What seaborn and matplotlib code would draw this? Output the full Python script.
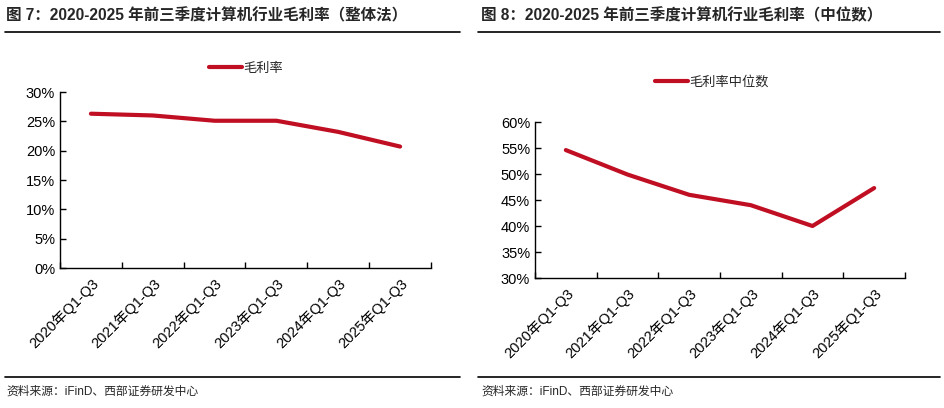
import matplotlib
matplotlib.use('Agg')
import matplotlib.pyplot as plt
from matplotlib.lines import Line2D
from matplotlib.ticker import FixedLocator, PercentFormatter
import pandas as pd
import seaborn as sns

# data
periods = ['2020年Q1-Q3', '2021年Q1-Q3', '2022年Q1-Q3', '2023年Q1-Q3', '2024年Q1-Q3', '2025年Q1-Q3']
gross_margin = [26.3, 26.0, 25.1, 25.1, 23.2, 20.7]
gross_margin_median = [54.6, 49.9, 46.0, 44.0, 40.0, 47.3]

title_left = '图 7：2020-2025 年前三季度计算机行业毛利率（整体法）'
title_right = '图 8：2020-2025 年前三季度计算机行业毛利率（中位数）'
source = '资料来源：iFinD、西部证券研发中心'

sns.set_theme(style='white')
plt.rcParams['font.family'] = ['Liberation Sans', 'Noto Sans CJK SC', 'DejaVu Sans']
plt.rcParams['axes.unicode_minus'] = False

RED = '#C00F23'
W, H = 945, 408

fig = plt.figure(figsize=(W / 100, H / 100), dpi=100)


def px_axes(x0, y_top, x1, y_bottom):
    return fig.add_axes([x0 / W, 1 - y_bottom / H, (x1 - x0) / W, (y_bottom - y_top) / H])


def hline(x0, x1, y):
    fig.add_artist(Line2D([x0 / W, x1 / W], [1 - y / H, 1 - y / H], color='black', lw=1.2,
                          transform=fig.transFigure))


def draw_panel(ax, values, label, ylim, step, legend_xy):
    df = pd.DataFrame({'period': periods, 'value': values})
    sns.lineplot(data=df, x='period', y='value', ax=ax, color=RED, linewidth=3,
                 label=label, sort=False)
    ax.set_xlim(-0.5, len(periods) - 0.5)
    ax.set_ylim(*ylim)
    ax.set_yticks([ylim[0] + i * step for i in range(int((ylim[1] - ylim[0]) / step) + 1)])
    ax.yaxis.set_major_formatter(PercentFormatter(decimals=0))
    ax.set_xticks(range(len(periods)))
    ax.set_xticklabels(periods, rotation=45, ha='right', rotation_mode='anchor')
    ax.xaxis.set_minor_locator(FixedLocator([i - 0.5 for i in range(len(periods) + 1)]))
    ax.tick_params(axis='x', which='major', length=0, pad=6, labelsize=10.5, colors='black')
    ax.tick_params(axis='x', which='minor', length=4, direction='in', width=1, color='black', bottom=True)
    ax.tick_params(axis='y', length=4, direction='in', width=1, labelsize=10.5, colors='black', left=True)
    ax.set_xlabel('')
    ax.set_ylabel('')
    for s in ['top', 'right']:
        ax.spines[s].set_visible(False)
    for s in ['left', 'bottom']:
        ax.spines[s].set_color('black')
        ax.spines[s].set_linewidth(1)
    ax.legend(loc='center', bbox_to_anchor=(legend_xy[0] / W, 1 - legend_xy[1] / H),
              bbox_transform=fig.transFigure, frameon=False, handlelength=2.5,
              handletextpad=0.1, fontsize=9.5)


ax1 = px_axes(60, 92, 431, 268)
draw_panel(ax1, gross_margin, '毛利率', (0, 30), 5, (246, 69))

ax2 = px_axes(535, 122, 905, 278)
draw_panel(ax2, gross_margin_median, '毛利率中位数', (30, 60), 5, (712, 82))

# titles and separators
fig.text(6 / W, 1 - 16 / H, title_left, fontsize=11.2, fontweight='bold', va='center', ha='left')
fig.text(481 / W, 1 - 16 / H, title_right, fontsize=11.2, fontweight='bold', va='center', ha='left')
hline(5, 460, 32)
hline(478, 940, 32)
hline(5, 460, 377)
hline(478, 940, 377)
fig.text(6 / W, 1 - 392 / H, source, fontsize=8.5, va='center', ha='left')
fig.text(481 / W, 1 - 392 / H, source, fontsize=8.5, va='center', ha='left')

fig.savefig('out.png', dpi=100)
